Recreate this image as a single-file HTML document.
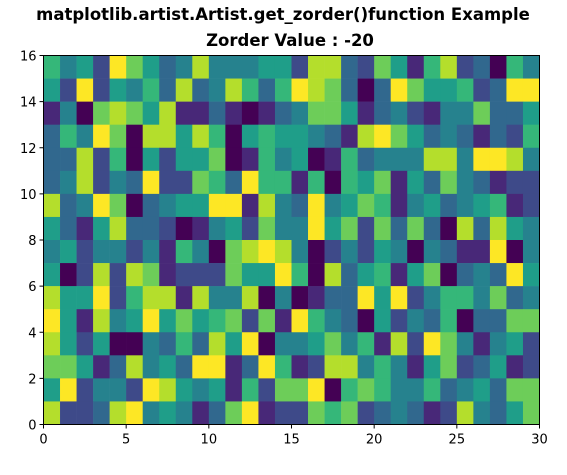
<!DOCTYPE html>
<html><head><meta charset="utf-8"><style>
body{margin:0;background:#fff;}
svg{display:block;font-family:"DejaVu Sans","Liberation Sans",sans-serif;}
</style></head><body>
<svg id="chart" width="567" height="475" viewBox="0 0 567 475">
<text x="283" y="20" text-anchor="middle" font-size="16.5" font-weight="bold">matplotlib.artist.Artist.get_zorder()function Example</text>
<text x="290" y="46" text-anchor="middle" font-size="16.5" font-weight="bold">Zorder Value : -20</text>
<g id="cells"></g>
<rect x="43.5" y="55.5" width="496" height="369" fill="none" stroke="#000" stroke-width="1"/>
<g id="axes"></g>
</svg>
<script>
// rows listed top (y=15) to bottom (y=0); each digit is a value 0-9
const rowsTop = [
"645297534844455"+"288327516823064",
"529254638348636"+"987303975562399",
"140787581131013"+"477513421447335",
"364970885860565"+"543189753431326",
"338260525570164"+"501634448849984",
"348243922763966"+"160657153743122",
"834970345599184"+"394576145345612",
"531583320145274"+"495727373083854",
"452442416407898"+"402425404311904",
"502828712227559"+"608356157034395",
"855926881844804"+"013395924664734",
"951845957567271"+"964305243603377",
"852500436385904"+"457461829741452",
"775138453991396"+"128846415723512",
"592442985451627"+"790676446345377",
"822389454137912"+"276723431284357"
];
const xTicks = [0,5,10,15,20,25,30];
const yTicks = [0,2,4,6,8,10,12,14,16];
const nCols = 30, nRows = 16;
const X0=43.5, X1=539.5, Y0=424.5, Y1=55.5;
const xs = v => X0 + (X1-X0)*v/nCols;
const ys = v => Y0 - (Y0-Y1)*v/nRows;
const stops=[[68,1,84],[72,40,120],[62,74,137],[49,104,142],[38,130,142],[31,158,137],[53,183,121],[109,205,89],[180,222,44],[253,231,37]];
function vir(t){t=Math.max(0,Math.min(1,t))*9;const i=Math.min(8,Math.floor(t)),f=t-i;const a=stops[i],b=stops[i+1];return `rgb(${a.map((c,k)=>Math.round(c+(b[k]-c)*f)).join(',')})`;}
const NS='http://www.w3.org/2000/svg';
const g=document.getElementById('cells');
rowsTop.forEach((row,ri)=>{
  const r = nRows-1-ri;
  for(let c=0;c<nCols;c++){
    const v=+row[c]/9;
    const el=document.createElementNS(NS,'rect');
    
    
    el.setAttribute('x',xs(c));el.setAttribute('y',ys(r+1));
    el.setAttribute('width',xs(c+1)-xs(c)+0.3);el.setAttribute('height',ys(r)-ys(r+1)+0.3);
    el.setAttribute('fill',vir(v));
    g.appendChild(el);
  }
});
const ax=document.getElementById('axes');
xTicks.forEach(t=>{
  const l=document.createElementNS(NS,'line');
  
  
  l.setAttribute('x1',xs(t));l.setAttribute('x2',xs(t));l.setAttribute('y1',Y0);l.setAttribute('y2',Y0+4);l.setAttribute('stroke','#000');
  ax.appendChild(l);
  const tx=document.createElementNS(NS,'text');
  
  
  tx.setAttribute('x',xs(t));tx.setAttribute('y',Y0+19);tx.setAttribute('text-anchor','middle');tx.setAttribute('font-size','13');
  tx.textContent=t;ax.appendChild(tx);
});
yTicks.forEach(t=>{
  const l=document.createElementNS(NS,'line');
  
  
  l.setAttribute('x1',X0-4);l.setAttribute('x2',X0);l.setAttribute('y1',ys(t));l.setAttribute('y2',ys(t));l.setAttribute('stroke','#000');
  ax.appendChild(l);
  const tx=document.createElementNS(NS,'text');
  
  
  tx.setAttribute('x',X0-7);tx.setAttribute('y',ys(t)+5);tx.setAttribute('text-anchor','end');tx.setAttribute('font-size','13');
  tx.textContent=t;ax.appendChild(tx);
});
</script>
</body></html>
